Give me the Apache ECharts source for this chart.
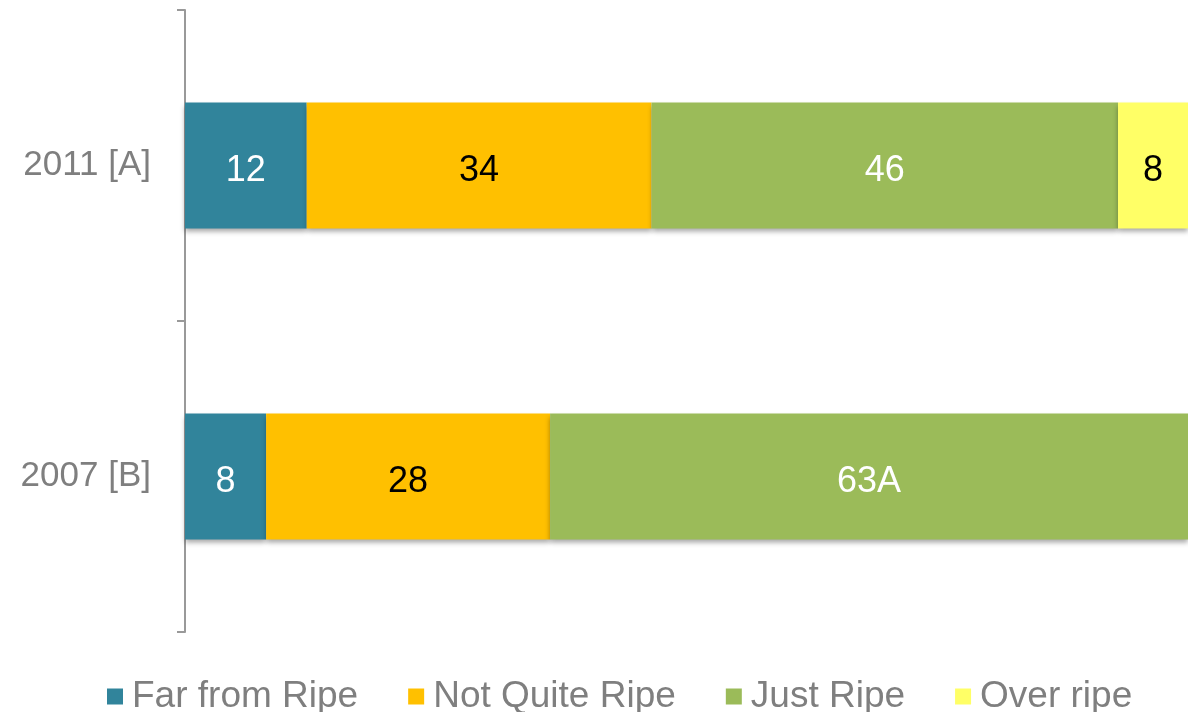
<!DOCTYPE html>
<html><head><meta charset="utf-8">
<script src="https://cdn.jsdelivr.net/npm/echarts@6/dist/echarts.min.js"></script>
<style>html,body{margin:0;padding:0;background:#fff}#c{width:1188px;height:712px}</style>
</head><body><div id="c"></div>
<script>
const categories = ["2011 [A]", "2007 [B]"];
const seriesNames = ["Far from Ripe", "Not Quite Ripe", "Just Ripe", "Over ripe"];
const farFromRipe = [12, 8];
const notQuiteRipe = [34, 28];
const justRipe = [46, 63];
const overRipe = [8, 1];
const labelsFar = ["12", "8"];
const labelsNotQuite = ["34", "28"];
const labelsJust = ["46", "63A"];
const labelsOver = ["8", ""];

const colors = ["#31849B", "#FFC000", "#9BBB59", "#FFFF66"];
const labelColors = ["#ffffff", "#000000", "#ffffff", "#000000"];
const values = [farFromRipe, notQuiteRipe, justRipe, overRipe];
const labels = [labelsFar, labelsNotQuite, labelsJust, labelsOver];
const FONT = "'Liberation Sans', Arial, Helvetica, sans-serif";

const chart = echarts.init(document.getElementById('c'), null, {renderer: 'canvas'});
chart.setOption({
  animation: false,
  color: colors,
  grid: {left: 185, right: 0, top: 10, bottom: 80, containLabel: false},
  legend: {
    data: seriesNames,
    left: 102, top: 673,
    itemWidth: 16, itemHeight: 16, itemGap: 50,
    icon: 'rect',
    textStyle: {color: '#7f7f7f', fontSize: 37, fontFamily: FONT, padding: [0, 0, 0, 4]}
  },
  xAxis: {type: 'value', min: 0, max: 98.9, show: false, splitLine: {show: false}},
  yAxis: {
    type: 'category', data: categories, inverse: true,
    axisLine: {show: true, lineStyle: {color: '#999999', width: 2}},
    axisTick: {show: true, length: 8, lineStyle: {color: '#999999', width: 2}},
    axisLabel: {color: '#7f7f7f', fontSize: 35, fontFamily: FONT, margin: 34, padding: [8, 0, 0, 0]}
  },
  series: seriesNames.map((name, i) => ({
    name: name, type: 'bar', stack: 'total', barWidth: 126,
    data: values[i],
    itemStyle: {color: colors[i], shadowColor: 'rgba(0,0,0,0.35)', shadowBlur: 5, shadowOffsetY: 3},
    label: {
      show: true, position: 'inside', color: labelColors[i],
      fontSize: 36, fontFamily: FONT, offset: [0, 6],
      formatter: p => labels[i][p.dataIndex]
    }
  }))
});
</script></body></html>
